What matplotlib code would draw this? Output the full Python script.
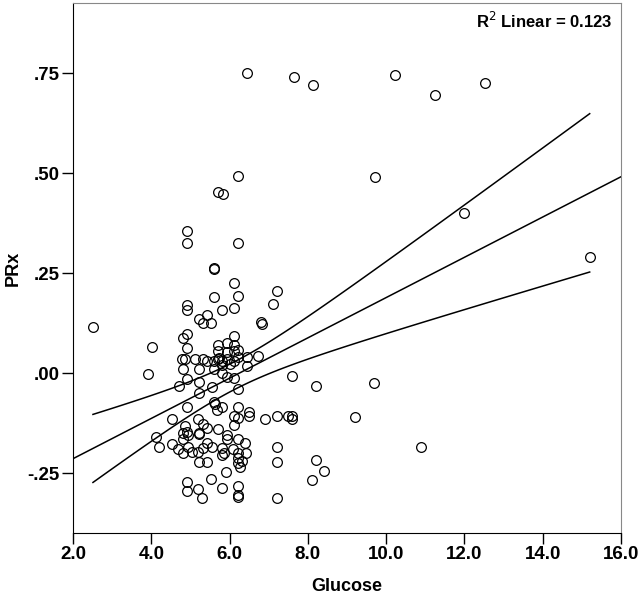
import numpy as np
import matplotlib
matplotlib.use("Agg")
import matplotlib.pyplot as plt

plt.rcParams['font.family'] = ['Liberation Sans', 'DejaVu Sans']

# glucose / PRx pairs
glucose = [6.45, 7.65, 8.13, 10.23, 11.25, 12.53, 9.72, 11.99, 15.2, 2.51,
           6.22, 5.70, 5.83, 4.91, 4.91, 6.22, 5.60, 5.61, 6.11, 5.60, 6.22,
           7.21, 7.11, 4.91, 4.91, 5.81, 6.11, 5.22, 5.42, 5.32, 5.53, 6.80, 6.82,
           4.81, 4.91, 6.11, 4.02, 4.91,
           5.70, 5.93, 6.11, 6.22, 5.70, 5.93, 6.11,
           4.78, 4.86, 5.12, 5.32, 5.42, 5.60, 5.70, 5.81, 5.93, 6.11, 6.22, 6.45, 6.73,
           5.73, 6.01, 5.81,
           4.81, 5.22, 5.60, 5.81, 5.93, 6.11, 6.45,
           3.92, 4.91, 4.71, 5.22, 5.22, 5.55, 6.22,
           7.60, 8.21, 9.69,
           4.91, 5.81, 5.68, 6.22, 6.11, 6.22, 6.50, 6.50, 6.91, 7.21, 7.49, 7.60, 7.60, 9.20,
           5.60, 5.63,
           4.53, 5.19, 5.32, 5.42, 4.86, 4.91, 4.81, 4.94, 5.22, 5.23, 4.81,
           6.11, 5.70, 5.93, 5.93, 6.22, 6.40,
           4.12, 4.20, 4.53, 4.68, 4.81, 4.94, 5.04, 5.19, 5.32, 5.42, 5.55,
           5.81, 5.81, 5.86, 6.09, 6.22, 6.22, 6.22, 6.32, 6.27, 6.42,
           7.21, 7.21, 8.21, 8.41, 8.11, 10.9,
           5.22, 5.42, 5.91, 5.53,
           4.91, 4.91, 5.19, 5.30, 5.81, 6.22, 6.22, 6.22, 7.21]
prx = [0.75, 0.74, 0.72, 0.745, 0.695, 0.725, 0.49, 0.40, 0.29, 0.115,
       0.4925, 0.4525, 0.4475, 0.355, 0.325, 0.325, 0.26, 0.262, 0.225, 0.19, 0.1925,
       0.205, 0.1725, 0.17, 0.1575, 0.1575, 0.1625, 0.135, 0.145, 0.125, 0.125, 0.1275, 0.122,
       0.0875, 0.0975, 0.0925, 0.065, 0.0625,
       0.07, 0.075, 0.07, 0.0575, 0.055, 0.0525, 0.055,
       0.035, 0.035, 0.035, 0.035, 0.03, 0.03, 0.035, 0.03, 0.035, 0.03, 0.04, 0.04, 0.0425,
       0.0375, 0.0225, 0.02,
       0.01, 0.01, 0.01, 0.0, -0.01, -0.0125, 0.0175,
       -0.0025, -0.015, -0.0325, -0.0225, -0.05, -0.035, -0.04,
       -0.0075, -0.0325, -0.025,
       -0.085, -0.085, -0.0925, -0.085, -0.1075, -0.1125, -0.0975, -0.1075, -0.115, -0.1075, -0.1075, -0.1075, -0.115, -0.11,
       -0.0725, -0.078,
       -0.115, -0.115, -0.1275, -0.1375, -0.1325, -0.1475, -0.15, -0.155, -0.15, -0.152, -0.165,
       -0.13, -0.14, -0.155, -0.165, -0.165, -0.175,
       -0.16, -0.185, -0.1775, -0.19, -0.2, -0.185, -0.1975, -0.1975, -0.1875, -0.175, -0.185,
       -0.1875, -0.205, -0.2, -0.19, -0.2, -0.2125, -0.225, -0.22, -0.235, -0.2,
       -0.185, -0.2225, -0.2175, -0.245, -0.2675, -0.185,
       -0.2225, -0.2225, -0.2475, -0.265,
       -0.2725, -0.295, -0.29, -0.3125, -0.2875, -0.2825, -0.305, -0.31, -0.3125]

x_ticks = [2.0, 4.0, 6.0, 8.0, 10.0, 12.0, 14.0, 16.0]
y_ticks = [-0.25, 0.0, 0.25, 0.50, 0.75]
y_tick_labels = ['-.25', '.00', '.25', '.50', '.75']
r2_text = 'R$^2$ Linear = 0.123'

x = np.array(glucose)
y = np.array(prx)
n = len(x)

# linear fit and 95% confidence band of the mean
slope, intercept = np.polyfit(x, y, 1)
resid = y - (intercept + slope * x)
s = np.sqrt(np.sum(resid ** 2) / (n - 2))
sxx = np.sum((x - x.mean()) ** 2)
t_crit = 1.976

fig = plt.figure(figsize=(6.41, 6.02), dpi=100)
ax = fig.add_axes([73 / 641, 69 / 602, 548 / 641, 530 / 602])

ax.plot(x, y, 'o', mfc='none', mec='black', ms=7.0, mew=0.9, zorder=3)

xf = np.linspace(2.0, 16.0, 50)
ax.plot(xf, intercept + slope * xf, color='black', lw=1.1)

xc = np.linspace(x.min(), x.max(), 100)
half = t_crit * s * np.sqrt(1 / n + (xc - x.mean()) ** 2 / sxx)
ax.plot(xc, intercept + slope * xc + half, color='black', lw=1.1)
ax.plot(xc, intercept + slope * xc - half, color='black', lw=1.1)

ax.set_xlim(2.0, 16.0)
ax.set_ylim(-0.40, 0.925)
ax.set_xticks(x_ticks)
ax.set_xticklabels(['%.1f' % v for v in x_ticks])
ax.set_yticks(y_ticks)
ax.set_yticklabels(y_tick_labels)
ax.tick_params(direction='out', length=8, width=1, labelsize=13.5, pad=1.5)
for lab in ax.get_xticklabels() + ax.get_yticklabels():
    lab.set_fontweight('bold')

ax.spines['left'].set_color('black')
ax.spines['bottom'].set_color('black')
ax.spines['top'].set_color('#888888')
ax.spines['right'].set_color('#888888')

ax.text(0.985, 0.966, r2_text, transform=ax.transAxes, ha='right', va='center',
        fontsize=12, fontweight='bold')

ax.set_xlabel('Glucose', fontsize=13, fontweight='bold', labelpad=11)
ax.set_ylabel('PRx', fontsize=13, fontweight='bold', labelpad=4)

fig.savefig('out.png', dpi=100)
